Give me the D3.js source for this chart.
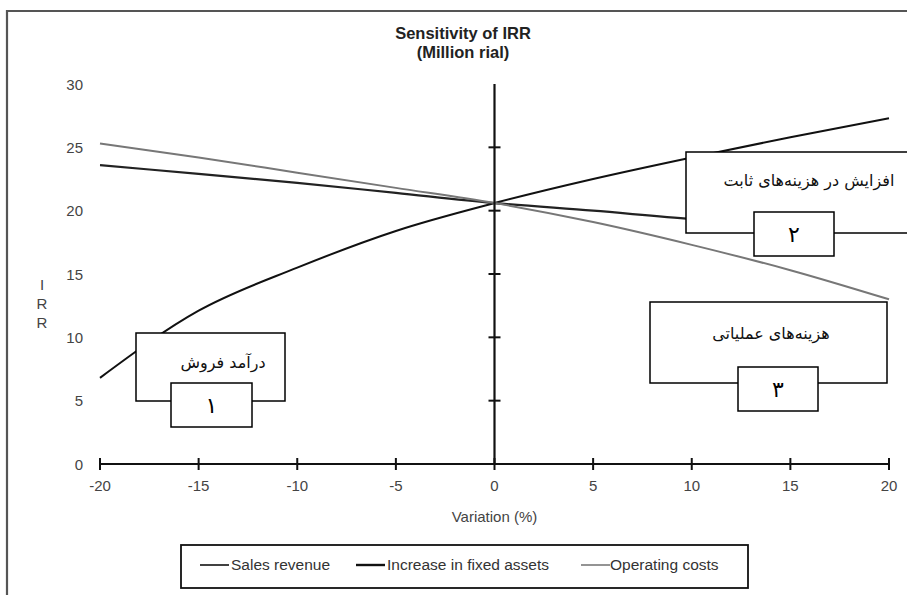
<!DOCTYPE html>
<html><head><meta charset="utf-8">
<script src="https://cdn.jsdelivr.net/npm/d3@7"></script>
<style>body{margin:0;background:#fff}svg{display:block}</style>
</head><body><svg id="c" width="907" height="595"></svg>
<script>
const variation = [-20, -15, -10, -5, 0, 5, 10, 15, 20];
const salesRevenue = [6.8, 12.1, 15.5, 18.4, 20.6, 22.5, 24.2, 25.8, 27.3];
const fixedAssets = [23.6, 22.9, 22.2, 21.4, 20.6, 20.0, 19.35, 18.9, 18.5];
const operatingCosts = [25.3, 24.2, 23.0, 21.8, 20.6, 19.1, 17.3, 15.3, 13.0];
const seriesNames = ["Sales revenue", "Increase in fixed assets", "Operating costs"];
const xTicks = [-20, -15, -10, -5, 0, 5, 10, 15, 20];
const yTicks = [0, 5, 10, 15, 20, 25, 30];
const boxLabels = ["درآمد فروش", "افزایش در هزینه‌های ثابت", "هزینه‌های عملیاتی"];
const boxNumbers = ["١", "٢", "٣"];

const svg = d3.select("#c");
const x = d3.scaleLinear().domain([-20, 20]).range([100, 889]);
const y = d3.scaleLinear().domain([0, 30]).range([464, 84]);

// frame
svg.append("path").attr("d", "M7,595 L7,11 L907,11").attr("fill", "none").attr("stroke", "#555").attr("stroke-width", 2.2);

// title
svg.append("text").attr("x", 463).attr("y", 39).attr("text-anchor", "middle")
  .attr("font-family", "Liberation Sans, Arial").attr("font-weight", "bold").attr("font-size", 16.5).attr("fill", "#222")
  .text("Sensitivity of IRR");
svg.append("text").attr("x", 463).attr("y", 58).attr("text-anchor", "middle")
  .attr("font-family", "Liberation Sans, Arial").attr("font-weight", "bold").attr("font-size", 16.5).attr("fill", "#222")
  .text("(Million rial)");

const axisFont = "Liberation Sans, Arial";
// y tick labels
svg.append("g").selectAll("text").data(yTicks).join("text")
  .attr("x", 83).attr("y", d => y(d) + 5.5).attr("text-anchor", "end")
  .attr("font-family", axisFont).attr("font-size", 15).attr("fill", "#444").text(d => d);
// IRR vertical label
svg.append("g").selectAll("text").data(["I", "R", "R"]).join("text")
  .attr("x", 42).attr("y", (d, i) => 290 + i * 19).attr("text-anchor", "middle")
  .attr("font-family", axisFont).attr("font-size", 15).attr("fill", "#444").text(d => d);

// series
const line = d3.line().x(d => x(d[0])).y(d => y(d[1])).curve(d3.curveMonotoneX);
const series = [
  {vals: salesRevenue, color: "#111", w: 2},
  {vals: fixedAssets, color: "#222", w: 2.2},
  {vals: operatingCosts, color: "#777", w: 2}
];
series.forEach(s => {
  svg.append("path").datum(variation.map((v, i) => [v, s.vals[i]]))
    .attr("d", line).attr("fill", "none").attr("stroke", s.color).attr("stroke-width", s.w);
});

// x axis
svg.append("line").attr("x1", x(-20)).attr("x2", x(20)).attr("y1", y(0)).attr("y2", y(0))
  .attr("stroke", "#111").attr("stroke-width", 2.2);
svg.append("g").selectAll("line").data(xTicks).join("line")
  .attr("x1", d => x(d)).attr("x2", d => x(d)).attr("y1", y(0) - 6).attr("y2", y(0) + 6)
  .attr("stroke", "#111").attr("stroke-width", 2);
svg.append("g").selectAll("text").data(xTicks).join("text")
  .attr("x", d => x(d)).attr("y", 491).attr("text-anchor", "middle")
  .attr("font-family", axisFont).attr("font-size", 15).attr("fill", "#444").text(d => d);
svg.append("text").attr("x", x(0)).attr("y", 522).attr("text-anchor", "middle")
  .attr("font-family", axisFont).attr("font-size", 15).attr("fill", "#444").text("Variation (%)");

// y axis at x=0
svg.append("line").attr("x1", x(0)).attr("x2", x(0)).attr("y1", y(0)).attr("y2", y(30))
  .attr("stroke", "#111").attr("stroke-width", 2.2);
svg.append("g").selectAll("line").data(yTicks.filter(d => d > 0 && d < 30)).join("line")
  .attr("x1", x(0) - 6).attr("x2", x(0) + 6).attr("y1", d => y(d)).attr("y2", d => y(d))
  .attr("stroke", "#111").attr("stroke-width", 2);

// annotation boxes
const faFont = "DejaVu Sans, Noto Sans";
const boxes = [
  {outer: [136, 333, 149, 68], inner: [171, 383, 81, 44], tx: 223, ty: 368},
  {outer: [686, 152, 240, 81], inner: [754, 212, 80, 44], tx: 809, ty: 186},
  {outer: [650, 302, 237, 81], inner: [738, 367, 80, 44], tx: 771, ty: 339}
];
boxes.forEach((b, i) => {
  const g = svg.append("g");
  g.append("rect").attr("x", b.outer[0]).attr("y", b.outer[1]).attr("width", b.outer[2]).attr("height", b.outer[3])
    .attr("fill", "#fff").attr("stroke", "#000").attr("stroke-width", 1.5);
  g.append("text").attr("x", b.tx).attr("y", b.ty).attr("text-anchor", "middle").attr("direction", "rtl")
    .attr("font-family", faFont).attr("font-size", 16).attr("fill", "#111").text(boxLabels[i]);
  g.append("rect").attr("x", b.inner[0]).attr("y", b.inner[1]).attr("width", b.inner[2]).attr("height", b.inner[3])
    .attr("fill", "#fff").attr("stroke", "#000").attr("stroke-width", 1.5);
  g.append("text").attr("x", b.inner[0] + b.inner[2] / 2).attr("y", b.inner[1] + b.inner[3] / 2 + 8)
    .attr("text-anchor", "middle").attr("font-family", faFont).attr("font-size", 22)
    .attr("fill", "#000").text(boxNumbers[i]);
});

// legend
svg.append("rect").attr("x", 181).attr("y", 545).attr("width", 567).attr("height", 43)
  .attr("fill", "#fff").attr("stroke", "#111").attr("stroke-width", 1.8);
const legendItems = [
  {lx: 200, tx: 231, color: "#111", w: 1.6},
  {lx: 356, tx: 387, color: "#111", w: 2.4},
  {lx: 581, tx: 610, color: "#666", w: 1.4}
];
legendItems.forEach((it, i) => {
  svg.append("line").attr("x1", it.lx).attr("x2", it.lx + 29).attr("y1", 565).attr("y2", 565)
    .attr("stroke", it.color).attr("stroke-width", it.w);
  svg.append("text").attr("x", it.tx).attr("y", 570).attr("font-family", axisFont).attr("font-size", 15.5)
    .attr("fill", "#333").text(seriesNames[i]);
});
</script></body></html>
